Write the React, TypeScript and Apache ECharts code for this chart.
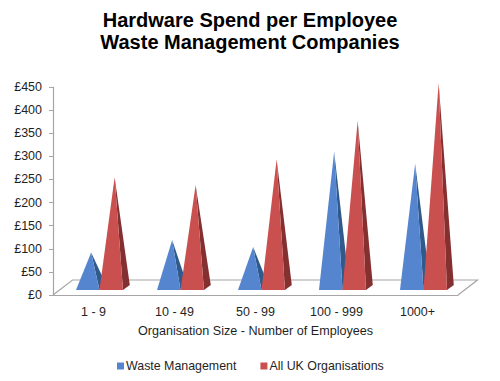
import React, { useEffect, useRef } from "react";
import * as echarts from "echarts";

const titleLines = ["Hardware Spend per Employee", "Waste Management Companies"];
const categories = ["1 - 9", "10 - 49", "50 - 99", "100 - 999", "1000+"];
const wasteManagement = [81, 108, 93, 299, 273];
const allUkOrganisations = [244, 227, 283, 366, 448];
const AXIS = "#a6a6a6";
const TEXT = "#1f1f1f";
const FONT = "Liberation Sans";

const pyramid = (slot: number, front: any, side: string) => (params: any, api: any) => {
  const idx = api.value(0);
  const [cx, tipY] = api.coord([idx, api.value(1)]);
  const [, zeroY] = api.coord([idx, 0]);
  const band = api.size([1, 0])[0];
  const w = band * 0.29;
  const depthX = 6.8;
  const depthY = 5;
  const left = cx + band * 0.074 + slot * w;
  const right = left + w;
  const baseY = zeroY - depthY;
  const apex = [(left + right) / 2 + depthX / 2, tipY - depthY];
  return {
    type: "group",
    children: [
      {
        type: "polygon",
        shape: { points: [[right, baseY], [right + depthX, baseY - depthY], apex] },
        style: { fill: side },
      },
      {
        type: "polygon",
        shape: { points: [[left, baseY], [right, baseY], apex] },
        style: { fill: front },
      },
    ],
  };
};

const floor = (params: any, api: any) => {
  const cs = params.coordSys;
  const x0 = cs.x;
  const x1 = cs.x + cs.width;
  const y0 = cs.y + cs.height;
  const dx = 19.5;
  const dy = 15;
  return {
    type: "polyline",
    shape: { points: [[x0, y0], [x0 + dx, y0 - dy], [x1 + dx, y0 - dy], [x1, y0]] },
    style: { fill: "none", stroke: AXIS, lineWidth: 1.2 },
  };
};

export default function App() {
  const ref = useRef<HTMLDivElement>(null);
  useEffect(() => {
    const chart = echarts.init(ref.current!, null, { renderer: "svg" });
    chart.setOption({
      animation: false,
      backgroundColor: "#ffffff",
      title: {
        text: titleLines.join("\n"),
        left: "center",
        top: 4,
        textStyle: { fontFamily: FONT, fontSize: 20, fontWeight: "bold", color: "#000", lineHeight: 22 },
      },
      legend: {
        data: ["Waste Management", "All UK Organisations"],
        top: 355,
        left: 112,
        icon: "rect",
        itemWidth: 7,
        itemHeight: 7,
        itemGap: 24,
        textStyle: { fontFamily: FONT, fontSize: 12.4, color: TEXT, padding: [0, 0, 0, -3] },
      },
      grid: { left: 53, top: 87, width: 405, height: 208 },
      xAxis: {
        type: "category",
        data: categories,
        axisLine: { lineStyle: { color: AXIS, width: 1.2 } },
        axisTick: { show: false },
        axisLabel: { fontFamily: FONT, fontSize: 12.5, color: TEXT, margin: 10 },
        name: "Organisation Size - Number of Employees",
        nameLocation: "middle",
        nameGap: 29,
        nameTextStyle: { fontFamily: FONT, fontSize: 12.6, color: TEXT },
      },
      yAxis: {
        type: "value",
        min: 0,
        max: 450,
        interval: 50,
        splitLine: { show: false },
        axisLine: { show: true, lineStyle: { color: AXIS, width: 1.2 } },
        axisTick: { show: true, length: 4, lineStyle: { color: AXIS } },
        axisLabel: { formatter: "£{value}", fontFamily: FONT, fontSize: 12.5, color: TEXT, margin: 11 },
      },
      series: [
        { type: "custom", name: "floor", data: [[0, 0]], renderItem: floor, silent: true, z: 1 },
        {
          type: "custom",
          name: "Waste Management",
          itemStyle: { color: "#5585cf" },
          data: wasteManagement.map((v, i) => [i, v]),
          renderItem: pyramid(-1, "#5585cf", "#30598c"),
          encode: { x: 0, y: 1 },
          z: 2,
        },
        {
          type: "custom",
          name: "All UK Organisations",
          itemStyle: { color: "#c9504f" },
          data: allUkOrganisations.map((v, i) => [i, v]),
          renderItem: pyramid(0, "#c9504f", "#842f30"),
          encode: { x: 0, y: 1 },
          z: 3,
        },
      ],
    });
    return () => chart.dispose();
  }, []);
  return <div ref={ref} style={{ position: "fixed", left: 0, top: 0, width: 500, height: 381 }} />;
}
